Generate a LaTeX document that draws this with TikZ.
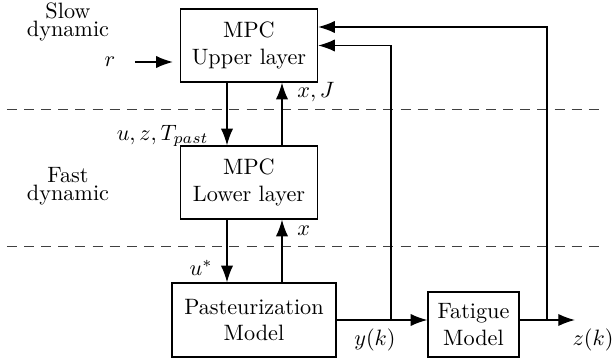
\documentclass[tikz,border=0pt]{standalone}
\usetikzlibrary{arrows.meta}
\begin{document}
\begin{tikzpicture}[x=0.45pt,y=-0.45pt,
  box/.style={draw, line width=0.6pt, align=center, inner sep=0pt},
  arr/.style={-{Latex[length=7.5pt,width=5.5pt]}, line width=0.6pt},
  sep/.style={dash pattern=on 4.5pt off 3.2pt, line width=0.4pt, black!75},
  lbl/.style={inner sep=0pt}]
\useasboundingbox (0,0) rectangle (614,362);
% separators
\draw[sep] (7,109) -- (605,109);
\draw[sep] (7,246) -- (605,246);
% boxes
\node[box, minimum width=61.65pt, minimum height=32.85pt] (up) at (249,45.5) {MPC\\Upper layer};
\node[box, minimum width=61.65pt, minimum height=32.85pt] (lo) at (249,182.5) {MPC\\Lower layer};
\node[box, minimum width=73.8pt, minimum height=33.3pt] (past) at (254,320) {Pasteurization\\Model};
\node[box, minimum width=40.95pt, minimum height=29.25pt] (fat) at (473.5,324.5) {Fatigue\\Model};
% side texts
\node[lbl, align=center] (slow) at (68,22) {Slow\\[-4pt]dynamic};
\node[lbl, align=center] (fast) at (68,186) {Fast\\[-4pt]dynamic};
% coordinates
\coordinate (d1) at (227,0);
\coordinate (u1) at (282,0);
\coordinate (rs) at (135,62);
\coordinate (yb) at (391,320);
\coordinate (zb) at (547,320);
\coordinate (zo) at (575,320);
\coordinate (zt) at (0,27);
% connectors
\draw[arr] (rs) -- ([xshift=-3.15pt]up.west |- rs);
\draw[arr] (up.south -| d1) -- (lo.north -| d1);
\draw[arr] (lo.north -| u1) -- (up.south -| u1);
\draw[arr] (lo.south -| d1) -- (past.north -| d1);
\draw[arr] (past.north -| u1) -- (lo.south -| u1);
\draw[arr] (past.east) -- (past.east -| fat.west);
\draw[arr] (yb) |- (up.east);
\draw[arr] (fat.east |- zo) -- (zo);
\draw[arr] (zb) |- (up.east |- zt);
% labels
\node[lbl] (rl) at (110,62) {$r$};
\node[lbl, anchor=west] (xj) at (297,92) {$x, J$};
\node[lbl, anchor=east] (uz) at (209,136) {$u, z, T_{past}$};
\node[lbl, anchor=west] (xl) at (297,231) {$x$};
\node[lbl] (us) at (201,268) {$u^{*}$};
\node[lbl] (yk) at (375,340) {$y(k)$};
\node[lbl] (zk) at (593,340) {$z(k)$};
\end{tikzpicture}
\end{document}
